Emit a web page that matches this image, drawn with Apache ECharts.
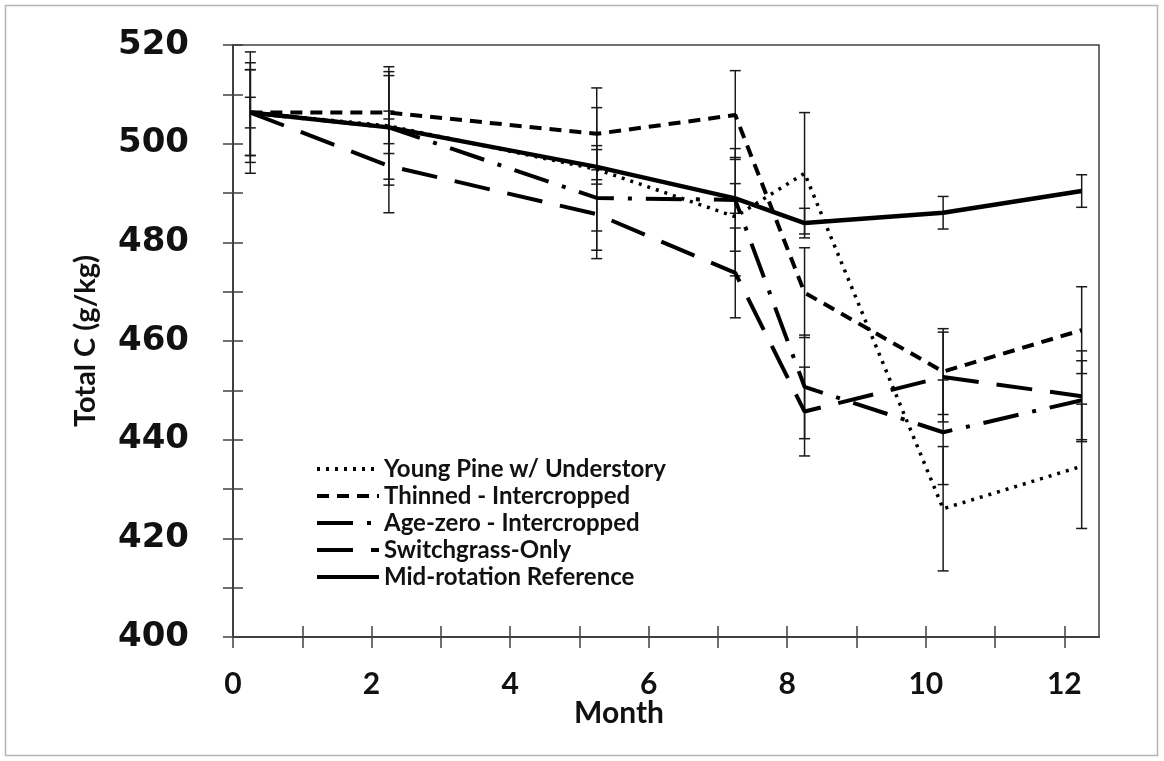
<!DOCTYPE html>
<html><head><meta charset="utf-8">
<script src="https://cdn.jsdelivr.net/npm/echarts@6/dist/echarts.min.js"></script>
<style>html,body{margin:0;padding:0;background:#fff}#c{width:1164px;height:761px}</style>
</head><body><div id="c"></div>
<script>
// ---- data ----
const months = [0.25, 2.25, 5.25, 7.25, 8.25, 10.25, 12.25];
const seriesNames = ['Young Pine w/ Understory', 'Thinned - Intercropped', 'Age-zero - Intercropped', 'Switchgrass-Only', 'Mid-rotation Reference'];
const youngPine     = [506.3, 503.6, 494.8, 485.2, 494.0, 426.0, 434.6];
const youngPineErr  = [12.3, 12.0, 12.5, 12.0, 12.3, 12.6, 12.6];
const thinned       = [506.3, 506.3, 502.0, 505.8, 469.8, 453.8, 462.2];
const thinnedErr    = [8.7, 8.3, 9.3, 9.0, 9.1, 8.7, 8.8];
const ageZero       = [506.3, 503.3, 489.0, 488.6, 450.7, 441.5, 448.0];
const ageZeroErr    = [10.1, 10.5, 10.6, 10.4, 10.5, 10.6, 8.0];
const switchgrass   = [506.3, 495.5, 485.7, 473.8, 445.7, 452.7, 448.8];
const switchgrassErr= [8.7, 9.5, 9.0, 9.1, 9.0, 9.1, 9.2];
const midRotation   = [506.3, 503.3, 495.3, 488.9, 483.9, 486.0, 490.4];
const midRotationErr= [3.1, 3.3, 3.5, 3.0, 3.0, 3.3, 3.3];
const xTickValues  = [0,1,2,3,4,5,6,7,8,9,10,11,12];
const xLabelValues = [0,2,4,6,8,10,12];
const yLabelValues = [400,420,440,460,480,500,520];

// ---- styles ----
const values = [youngPine, thinned, ageZero, switchgrass, midRotation];
const errors = [youngPineErr, thinnedErr, ageZeroErr, switchgrassErr, midRotationErr];
const lineStyles = [
  {color:'#000', width:3.5, type:[3,6]},
  {color:'#000', width:4, type:[12,8]},
  {color:'#000', width:4, type:[36,14,4,14]},
  {color:'#000', width:4, type:[36,18]},
  {color:'#000', width:4.5, type:'solid'}
];

const series = [];
values.forEach((vals, i) => {
  series.push({
    type:'custom', name: seriesNames[i] + ' err', xAxisIndex:0, yAxisIndex:0, silent:true, z:1,
    data: months.map((m, k) => [m, vals[k] - errors[i][k], vals[k] + errors[i][k]]),
    renderItem: function(params, api){
      const lo = api.coord([api.value(0), api.value(1)]);
      const hi = api.coord([api.value(0), api.value(2)]);
      const w = 5.5;
      const st = {stroke:'#1a1a1a', lineWidth:1.5};
      return {type:'group', children:[
        {type:'line', shape:{x1:lo[0], y1:lo[1], x2:hi[0], y2:hi[1]}, style:st},
        {type:'line', shape:{x1:lo[0]-w, y1:lo[1], x2:lo[0]+w, y2:lo[1]}, style:st},
        {type:'line', shape:{x1:hi[0]-w, y1:hi[1], x2:hi[0]+w, y2:hi[1]}, style:st}
      ]};
    }
  });
});
values.forEach((vals, i) => {
  series.push({
    type:'line', name: seriesNames[i], xAxisIndex:0, yAxisIndex:0, z:3,
    data: months.map((m, k) => [m, vals[k]]),
    symbol:'none', showSymbol:false, lineStyle: lineStyles[i], itemStyle:{color:'#000'},
    animation:false
  });
});

const axisCol = '#404040';
const option = {
  animation:false,
  backgroundColor:'#fff',
  grid:{left:233, right:65, top:45, bottom:124, show:true, borderColor:axisCol, borderWidth:1.5, backgroundColor:'transparent'},
  xAxis:[
    {type:'value', min:0, max:12.5, interval:1, position:'bottom',
     axisLine:{show:true, onZero:false, lineStyle:{color:axisCol, width:2}},
     axisTick:{show:true, customValues:xTickValues, length:11, inside:false, lineStyle:{color:axisCol, width:1.5}},
     axisLabel:{customValues:xLabelValues, margin:32, fontFamily:'Lato', fontWeight:'bold', fontSize:30, color:'#111'},
     splitLine:{show:false}},
    {type:'value', min:0, max:12.5, interval:1, position:'bottom',
     axisLine:{show:false, onZero:false},
     axisTick:{show:true, customValues:xTickValues, length:11, inside:true, lineStyle:{color:axisCol, width:1.5}},
     axisLabel:{show:false}, splitLine:{show:false}}
  ],
  yAxis:[
    {type:'value', min:400, max:520, interval:10, position:'left',
     axisLine:{show:true, onZero:false, lineStyle:{color:axisCol, width:2}},
     axisTick:{show:true, length:10, inside:false, lineStyle:{color:axisCol, width:1.5}},
     axisLabel:{customValues:yLabelValues, margin:44, fontFamily:'DejaVu Sans', fontWeight:'bold', fontSize:34, color:'#111'},
     splitLine:{show:false}},
    {type:'value', min:400, max:520, interval:10, position:'left',
     axisLine:{show:false, onZero:false},
     axisTick:{show:true, length:10, inside:true, lineStyle:{color:axisCol, width:1.5}},
     axisLabel:{show:false}, splitLine:{show:false}}
  ],
  legend:{
    data: seriesNames, orient:'vertical', left:310, top:452, itemWidth:62, itemHeight:14, itemGap:3,
    itemStyle:{color:'rgba(0,0,0,0)', borderColor:'rgba(0,0,0,0)', borderWidth:0, opacity:0},
    lineStyle:{width:4},
    textStyle:{fontFamily:'Lato', fontWeight:'bold', fontSize:24, color:'#111', lineHeight:24},
    selectedMode:false
  },
  graphic:[
    {type:'rect', shape:{x:5.5, y:5.5, width:1152, height:750}, style:{fill:'none', stroke:'#b5b5b5', lineWidth:1.5}, silent:true},
    {type:'text', x:86, y:341, rotation:Math.PI/2, style:{text:'Total C (g/kg)', fontFamily:'Lato', fontWeight:'bold', fontSize:29, fill:'#111', align:'center', verticalAlign:'middle'}},
    {type:'text', x:619, y:713, style:{text:'Month', fontFamily:'Lato', fontWeight:'bold', fontSize:30, fill:'#111', align:'center', verticalAlign:'middle'}}
  ],
  series: series
};
const chart = echarts.init(document.getElementById('c'), null, {renderer:'canvas'});
chart.setOption(option);
</script></body></html>
